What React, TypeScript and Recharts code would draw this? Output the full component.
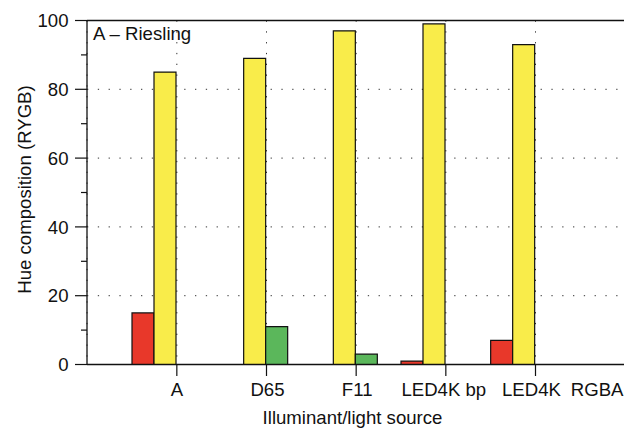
import React from 'react';
import { BarChart, Bar, XAxis, YAxis, CartesianGrid, ReferenceLine } from 'recharts';

// hue composition per illuminant, in percent
const illuminants = ['A', 'D65', 'F11', 'LED4K bp', 'LED4K', 'RGBA'];
const red = [15, 0, 0, 1, 7, 0];
const yellow = [85, 89, 97, 99, 93, 0];
const green = [0, 11, 3, 0, 0, 0];
const blue = [0, 0, 0, 0, 0, 0];

const yTicks = [0, 10, 20, 30, 40, 50, 60, 70, 80, 90, 100];
const gridValues = [20, 40, 60, 80];

const data = illuminants.map((name, i) => ({
  name,
  R: red[i],
  Y: yellow[i],
  G: green[i],
  B: blue[i],
}));

const FONT = '"Liberation Sans", Arial, Helvetica, sans-serif';
const INK = '#111';
const FS = 18.6;

// the x labels are squeezed left in the original so RGBA still fits
const labelShift = [0, 1, 1, -2, -4, -28];

const YTick = (props: any) => {
  const { x, y, payload } = props;
  const major = payload.value % 20 === 0;
  const len = major ? 12 : 6;
  return (
    <g>
      <line x1={x - len} x2={x} y1={y} y2={y} stroke={INK} strokeWidth={1.2} />
      {major && (
        <text x={x - len - 6.5} y={y} dy="0.36em" textAnchor="end" fontSize={FS} fontFamily={FONT} fill={INK}>
          {payload.value}
        </text>
      )}
    </g>
  );
};

const XTick = (props: any) => {
  const { x, y, payload, index } = props;
  return (
    <g>
      <line x1={x} x2={x} y1={y} y2={y + 11.5} stroke={INK} strokeWidth={1.2} />
      <text x={x + (labelShift[index] ?? 0)} y={y + 31.5} textAnchor="middle" fontSize={FS} fontFamily={FONT} fill={INK}>
        {payload.value}
      </text>
    </g>
  );
};

export default function App() {
  return (
    <div
      style={{
        position: 'absolute',
        left: 0,
        top: 0,
        width: 624,
        height: 428,
        overflow: 'hidden',
        background: '#fff',
        fontFamily: FONT,
      }}
    >
      <BarChart
        width={670}
        height={428}
        data={data}
        margin={{ top: 20.5, right: 0, bottom: 0, left: 0 }}
        barGap={0}
        barCategoryGap={0}
      >
        <CartesianGrid stroke="#333" strokeDasharray="1.3 9.5" horizontalValues={gridValues} />
        <XAxis
          dataKey="name"
          height={63.5}
          padding={{ left: 45, right: 0 }}
          interval={0}
          tickSize={0}
          tickMargin={0}
          tickLine={false}
          axisLine={{ stroke: INK, strokeWidth: 1.3 }}
          tick={<XTick />}
          label={{
            value: 'Illuminant/light source',
            position: 'insideBottom',
            offset: 4,
            dx: -26,
            fontSize: FS,
            fill: INK,
          }}
        />
        <YAxis
          type="number"
          domain={[0, 100]}
          ticks={yTicks}
          width={87}
          interval={0}
          tickSize={0}
          tickMargin={0}
          tickLine={false}
          axisLine={{ stroke: INK, strokeWidth: 1.3 }}
          tick={<YTick />}
          label={{
            value: 'Hue composition (RYGB)',
            angle: -90,
            position: 'insideLeft',
            offset: 24,
            dy: -3,
            style: { textAnchor: 'middle' },
            fontSize: FS,
            fill: INK,
          }}
        />
        <Bar dataKey="R" fill="#e8382a" stroke={INK} strokeWidth={1.2} isAnimationActive={false} />
        <Bar dataKey="Y" fill="#f9ec4a" stroke={INK} strokeWidth={1.2} isAnimationActive={false} />
        <Bar dataKey="G" fill="#5bb75b" stroke={INK} strokeWidth={1.2} isAnimationActive={false} />
        <Bar dataKey="B" fill="#3b6fb6" stroke={INK} strokeWidth={1.2} isAnimationActive={false} />
        <ReferenceLine
          y={100}
          stroke={INK}
          strokeWidth={1.6}
          label={{ value: 'A – Riesling', position: 'insideTopLeft', offset: 6, fontSize: FS, fill: INK }}
        />
      </BarChart>
    </div>
  );
}
